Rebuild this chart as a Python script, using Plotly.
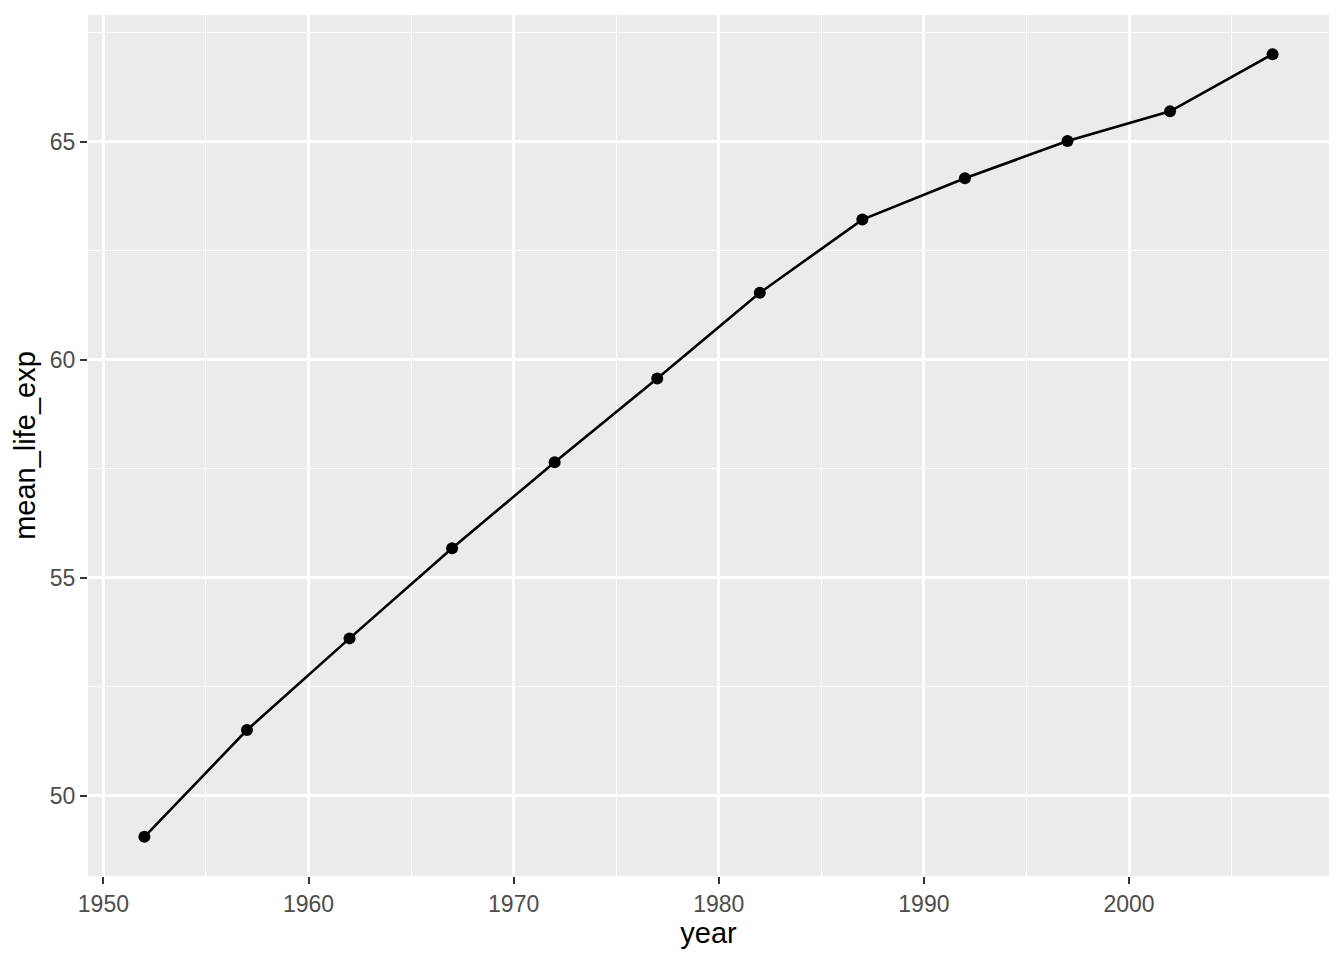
import plotly.graph_objects as go

years = [1952, 1957, 1962, 1967, 1972, 1977, 1982, 1987, 1992, 1997, 2002, 2007]
mean_life_exp = [49.05762, 51.50740, 53.60925, 55.67829, 57.64739, 59.57016,
                 61.53320, 63.21261, 64.16034, 65.01468, 65.69492, 67.00742]
x_ticks = [1950, 1960, 1970, 1980, 1990, 2000]
x_minor = [1955, 1965, 1975, 1985, 1995, 2005]
y_ticks = [50, 55, 60, 65]
y_minor = [47.5, 52.5, 57.5, 62.5, 67.5]

FONT = "Liberation Sans, Arial, Helvetica, sans-serif"

fig = go.Figure()
fig.add_trace(go.Scatter(
    x=years, y=mean_life_exp, mode="lines+markers",
    line=dict(color="black", width=2.6),
    marker=dict(color="black", size=12),
    showlegend=False,
))

xspan = max(years) - min(years)
yspan = max(mean_life_exp) - min(mean_life_exp)

axis_common = dict(
    showgrid=True, gridcolor="white", gridwidth=2.6,
    zeroline=False, showline=False,
    ticks="outside", ticklen=7, tickwidth=2.4, tickcolor="#333333",
    tickfont=dict(family=FONT, size=23, color="#4d4d4d"),
    title_font=dict(family=FONT, size=29, color="black"),
)

fig.update_layout(
    width=1344, height=960,
    paper_bgcolor="white", plot_bgcolor="#ebebeb",
    margin=dict(l=88, r=15, t=15, b=84),
    xaxis=dict(
        range=[min(years) - 0.05 * xspan, max(years) + 0.05 * xspan],
        tickvals=x_ticks, ticktext=[str(v) for v in x_ticks],
        minor=dict(tickvals=x_minor, showgrid=True,
                   gridcolor="white", gridwidth=1.3, ticks=""),
        title=dict(text="year", standoff=4),
        **axis_common,
    ),
    yaxis=dict(
        range=[min(mean_life_exp) - 0.05 * yspan, max(mean_life_exp) + 0.05 * yspan],
        tickvals=y_ticks, ticktext=[str(v) for v in y_ticks],
        minor=dict(tickvals=y_minor, showgrid=True,
                   gridcolor="white", gridwidth=1.3, ticks=""),
        title=dict(text="mean_life_exp", standoff=5),
        **axis_common,
    ),
)

fig.write_html("out.html", config={"displayModeBar": False},
               post_script="document.body.style.margin='0';")
